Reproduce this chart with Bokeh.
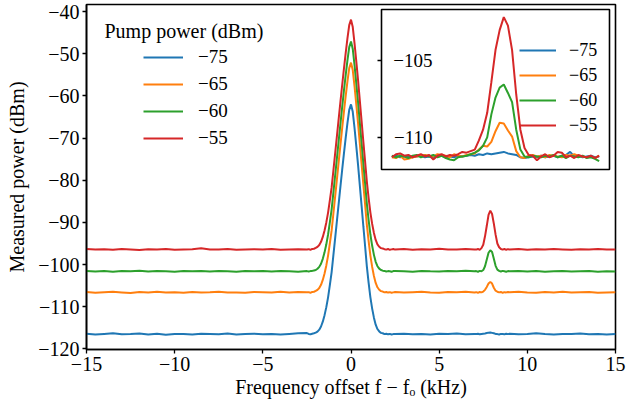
from bokeh.plotting import figure
from bokeh.models import (Range1d, LinearAxis, FixedTicker, Legend, LegendItem,
                          Label, BoxAnnotation)
from bokeh.core.properties import value
from bokeh.embed import file_html
from bokeh.resources import INLINE

# ---------------- data ----------------
series_names = ["\u221275", "\u221265", "\u221260", "\u221255"]
series_colors = ["#1f77b4", "#ff7f0e", "#2ca02c", "#d62728"]

freq_khz = [-15.0, -14.5, -14.0, -13.5, -13.0, -12.5, -12.0, -11.5, -11.0, -10.5, -10.0, -9.5, -9.0,
            -8.5, -8.0, -7.5, -7.0, -6.5, -6.0, -5.5, -5.0, -4.5, -4.0, -3.5, -3.0, -2.5,
            -2.4, -2.3, -2.2, -2.1, -2.0, -1.9, -1.8, -1.7, -1.6, -1.5, -1.4, -1.3, -1.2, -1.1, -1.0,
            -0.9, -0.8, -0.7, -0.6, -0.5, -0.4, -0.3, -0.2, -0.1, 0.0, 0.1, 0.2, 0.3, 0.4, 0.5, 0.6,
            0.7, 0.8, 0.9, 1.0, 1.1, 1.2, 1.3, 1.4, 1.5, 1.6, 1.7, 1.8, 1.9, 2.0, 2.1, 2.2, 2.3, 2.4,
            2.5, 3.0, 3.5, 4.0, 4.5, 5.0, 5.5, 6.0, 6.5, 7.0,
            7.1, 7.2, 7.3, 7.4, 7.5, 7.6, 7.7, 7.8, 7.9, 8.0, 8.1, 8.2, 8.3, 8.4, 8.5, 8.6, 8.7, 8.8, 8.9,
            9.0, 9.5, 10.0, 10.5, 11.0, 11.5, 12.0, 12.5, 13.0, 13.5, 14.0, 14.5, 15.0]

power_m75 = ([-116.4, -116.6, -116.45, -116.3, -116.55, -116.5, -116.35, -116.6, -116.4, -116.65,
              -116.45, -116.5, -116.6, -116.4, -116.45, -116.55, -116.35, -116.6, -116.5, -116.4,
              -116.55, -116.45, -116.6, -116.45, -116.3, -116.25]
             + [-116.45, -116.55, -116.4, -116.3, -116.15, -115.9, -115.45, -114.7, -113.55, -112.0,
                -110.1, -107.77, -104.88, -101.85, -97.84, -93.78, -89.7, -85.6, -81.5, -77.5,
                -73.6, -69.9, -66.4, -63.3, -62.0, -63.75, -67.6, -71.9, -76.35, -81.2,
                -86.0, -90.9, -95.66, -100.5, -104.33, -107.77, -110.45, -112.6, -114.25, -115.29,
                -115.87, -116.2, -116.3, -116.5, -116.4, -116.55, -116.45, -116.6, -116.5]
             + [-116.5, -116.4, -116.55, -116.45, -116.6, -116.4, -116.5, -116.35, -116.55, -116.45]
             + [-116.5, -116.4, -116.55, -116.45, -116.4, -116.35, -116.25, -116.15, -116.1, -116.2,
                -116.3, -116.45, -116.5, -116.6, -116.45, -116.5, -116.55, -116.4, -116.5]
             + [-116.4, -116.55, -116.45, -116.3, -116.5, -116.6, -116.45, -116.5, -116.35, -116.55,
                -116.45, -116.6, -116.5])

power_m65 = ([-106.5, -106.7, -106.55, -106.45, -106.6, -106.75, -106.5, -106.6, -106.45, -106.65,
              -106.55, -106.7, -106.5, -106.6, -106.55, -106.45, -106.65, -106.6, -106.7, -106.5,
              -106.55, -106.6, -106.45, -106.65, -106.5, -106.55]
             + [-106.55, -106.7, -106.5, -106.45, -106.25, -106.0, -105.55, -104.8, -103.64, -102.1,
                -100.2, -97.87, -94.98, -91.95, -87.94, -83.88, -79.8, -75.7, -71.6, -67.6,
                -63.7, -60.0, -56.5, -53.4, -52.1, -53.85, -57.7, -62.0, -66.45, -71.3,
                -76.1, -81.0, -85.76, -90.6, -94.43, -97.87, -100.55, -102.7, -104.35, -105.39,
                -105.97, -106.3, -106.4, -106.6, -106.5, -106.65, -106.55, -106.7, -106.6]
             + [-106.5, -106.65, -106.55, -106.45, -106.6, -106.7, -106.5, -106.55, -106.45, -106.6]
             + [-106.55, -106.7, -106.5, -106.6, -106.4, -106.0, -105.3, -104.5, -104.1, -104.5,
                -105.5, -106.2, -106.45, -106.6, -106.5, -106.7, -106.55, -106.6, -106.5]
             + [-106.55, -106.45, -106.6, -106.7, -106.5, -106.6, -106.45, -106.65, -106.55, -106.5,
                -106.7, -106.6, -106.55])

power_m60 = ([-101.5, -101.65, -101.55, -101.7, -101.5, -101.6, -101.45, -101.65, -101.55, -101.6,
              -101.7, -101.5, -101.6, -101.55, -101.65, -101.5, -101.6, -101.7, -101.55, -101.6,
              -101.5, -101.65, -101.55, -101.6, -101.7, -101.55]
             + [-101.65, -101.55, -101.5, -101.4, -101.3, -101.0, -100.55, -99.8, -98.64, -97.1,
                -95.2, -92.87, -89.98, -86.95, -82.94, -78.88, -74.8, -70.7, -66.6, -62.6,
                -58.7, -55.0, -51.5, -48.4, -47.1, -48.85, -52.7, -57.0, -61.45, -66.3,
                -71.1, -76.0, -80.76, -85.6, -89.43, -92.87, -95.55, -97.7, -99.35, -100.39,
                -100.97, -101.3, -101.45, -101.5, -101.65, -101.55, -101.6, -101.7, -101.55]
             + [-101.55, -101.6, -101.7, -101.5, -101.6, -101.65, -101.55, -101.6, -101.45, -101.6]
             + [-101.55, -101.7, -101.5, -101.6, -101.3, -100.4, -98.8, -97.2, -96.6, -97.0,
                -98.6, -100.3, -101.2, -101.5, -101.65, -101.5, -101.6, -101.7, -101.55]
             + [-101.6, -101.5, -101.65, -101.55, -101.7, -101.6, -101.5, -101.65, -101.6, -101.55,
                -101.7, -101.6, -101.65])

power_m55 = ([-96.3, -96.45, -96.35, -96.5, -96.3, -96.4, -96.55, -96.35, -96.45, -96.3,
              -96.5, -96.4, -96.35, -96.15, -96.45, -96.4, -96.3, -96.5, -96.4, -96.35,
              -96.45, -96.3, -96.5, -96.4, -96.35, -96.4]
             + [-96.35, -96.5, -96.3, -96.25, -96.05, -95.8, -95.35, -94.6, -93.44, -91.9,
                -90.0, -87.67, -84.78, -81.75, -77.74, -73.68, -69.6, -65.5, -61.4, -57.4,
                -53.5, -49.8, -46.3, -43.2, -41.9, -43.65, -47.5, -51.8, -56.25, -61.1,
                -65.9, -70.8, -75.56, -80.4, -84.23, -87.67, -90.35, -92.5, -94.15, -95.19,
                -95.77, -96.1, -96.2, -96.35, -96.45, -96.3, -96.5, -96.4, -96.3]
             + [-96.45, -96.3, -96.5, -96.35, -96.4, -96.25, -96.45, -96.4, -96.3, -96.45]
             + [-96.45, -96.3, -96.5, -96.1, -95.3, -93.3, -90.8, -88.2, -87.2, -88.0,
                -90.3, -92.9, -95.0, -95.9, -96.3, -96.45, -96.3, -96.5, -96.35]
             + [-96.4, -96.3, -96.5, -96.35, -96.45, -96.3, -96.4, -96.5, -96.35, -96.4,
                -96.3, -96.45, -96.4])

inset_freq_khz = [6.9, 6.94, 6.98, 7.02, 7.06, 7.1, 7.14, 7.18, 7.22, 7.26, 7.3, 7.34, 7.38, 7.42,
                  7.46, 7.5, 7.54, 7.58, 7.62, 7.66, 7.7, 7.74, 7.78, 7.82, 7.86, 7.9, 7.94, 7.98,
                  8.02, 8.06, 8.1, 8.14, 8.18, 8.22, 8.26, 8.3, 8.34, 8.38, 8.42, 8.46, 8.5, 8.54,
                  8.58, 8.62, 8.66, 8.7, 8.74, 8.78, 8.82, 8.86, 8.9]

inset_m75 = [-111.25, -111.2, -111.3, -111.25, -111.2, -111.3, -111.25, -111.2, -111.3, -111.25,
             -111.35, -111.25, -111.2, -111.3, -111.25, -111.3, -111.2, -111.25, -111.2, -111.15,
             -111.2, -111.1, -111.15, -111.05, -111.1, -111.05, -111.0, -110.95, -111.05, -111.1,
             -111.15, -111.3, -111.35, -111.3, -111.25, -111.3, -111.2, -111.3, -111.25, -111.2,
             -111.3, -111.2, -111.15, -110.95, -111.25, -111.2, -111.3, -111.25, -111.2, -111.3,
             -111.25]
inset_m65 = [-111.3, -111.35, -111.2, -111.45, -111.4, -111.3, -111.25, -111.2, -111.15, -111.2,
             -111.25, -111.1, -111.15, -111.2, -111.3, -111.1, -111.2, -111.25, -111.15, -111.1,
             -111.05, -110.8, -110.55, -110.6, -110.3, -109.6, -109.05, -109.1, -109.55, -109.95,
             -110.9, -111.3, -111.35, -111.2, -111.15, -111.25, -111.2, -111.3, -111.15, -111.2,
             -111.25, -111.3, -111.15, -111.2, -111.1, -111.2, -111.25, -111.3, -111.25, -111.35,
             -111.2]
inset_m60 = [-111.2, -111.3, -111.2, -111.25, -111.35, -111.2, -111.15, -111.3, -111.2, -111.25,
             -111.15, -111.3, -111.2, -111.35, -111.45, -111.5, -111.3, -111.25, -111.2, -111.1,
             -111.0, -110.85, -110.55, -110.0, -108.5, -107.4, -106.75, -106.55, -107.1, -107.7,
             -109.5, -110.8, -111.25, -111.3, -111.2, -111.25, -111.3, -111.2, -111.25, -111.15,
             -111.3, -111.2, -111.35, -111.2, -111.25, -111.3, -111.2, -111.35, -111.3, -111.4,
             -111.55]
inset_m55 = [-111.3, -111.1, -111.05, -111.2, -111.15, -111.3, -111.2, -111.1, -111.25, -111.15,
             -111.45, -111.2, -111.1, -111.25, -111.15, -111.2, -111.1, -110.95, -111.0, -110.9,
             -110.8, -110.2, -109.5, -108.4, -106.4, -104.3, -103.0, -102.15, -102.7, -104.3,
             -107.2, -109.5, -110.7, -111.15, -111.2, -111.5, -111.25, -111.1, -111.3, -111.2,
             -110.95, -111.0, -111.3, -111.2, -111.35, -111.15, -111.25, -111.3, -111.2, -111.35,
             -111.2]

x_ticks = [-15, -10, -5, 0, 5, 10, 15]
x_tick_labels = ["\u221215", "\u221210", "\u22125", "0", "5", "10", "15"]
y_ticks = [-120, -110, -100, -90, -80, -70, -60, -50, -40]
y_tick_labels = ["\u2212120", "\u2212110", "\u2212100", "\u221290", "\u221280", "\u221270",
                 "\u221260", "\u221250", "\u221240"]
inset_y_ticks = [-110, -105]
inset_y_tick_labels = ["\u2212110", "\u2212105"]

main_series = [power_m75, power_m65, power_m60, power_m55]
inset_series = [inset_m75, inset_m65, inset_m60, inset_m55]
for s in main_series:
    assert len(s) == len(freq_khz)
for s in inset_series:
    assert len(s) == len(inset_freq_khz)

# ---------------- layout constants ----------------
FONT = "Liberation Serif"
W, H = 626, 404
BL, BR, BT, BB = 86, 11, 4, 55
X_RANGE = (-15, 15)
Y_RANGE = (-120.15, -38.3)
fl, fr, ft, fb = BL, W - BR, BT, H - BB          # frame in canvas px
il, ir, it, ib = 381, 609, 9, 169                # inset box in canvas px
IX0, IX1 = 6.8, 9.0
IY0, IY1 = -112.1, -101.65

p = figure(width=W, height=H, output_backend="svg", toolbar_location=None,
           x_range=Range1d(*X_RANGE), y_range=Range1d(*Y_RANGE),
           min_border_left=BL, min_border_right=BR, min_border_top=BT, min_border_bottom=BB,
           background_fill_color="white", border_fill_color="white")
p.xgrid.visible = False
p.ygrid.visible = False
p.outline_line_color = "black"
p.outline_line_width = 1.6

for ax, ticks, labels in ((p.xaxis[0], x_ticks, x_tick_labels), (p.yaxis[0], y_ticks, y_tick_labels)):
    ax.ticker = FixedTicker(ticks=ticks)
    ax.major_label_overrides = {t: l for t, l in zip(ticks, labels)}
    ax.minor_tick_line_color = None
    ax.major_tick_in = 0
    ax.major_tick_out = 4
    ax.major_tick_line_width = 1.3
    ax.major_tick_line_color = "black"
    ax.axis_line_color = "black"
    ax.axis_line_width = 1.6
    ax.major_label_text_font = FONT
    ax.major_label_text_font_size = "20px"
    ax.major_label_text_color = "black"
    ax.major_label_standoff = 3
    ax.axis_label_text_font = FONT
    ax.axis_label_text_font_size = "20px"
    ax.axis_label_text_font_style = "normal"
    ax.axis_label_text_color = "black"

p.yaxis[0].axis_label = "Measured power (dBm)"
p.yaxis[0].axis_label_standoff = 7
p.xaxis[0].axis_label = "Frequency offset f \u2212 f\u2092 (kHz)"
p.xaxis[0].axis_label_standoff = 2

# inset ranges mapped onto the frame
sx = (IX1 - IX0) / (ir - il)
sy = (IY1 - IY0) / (ib - it)
p.extra_x_ranges = {"inset_x": Range1d(IX0 - (il - fl) * sx, IX1 + (fr - ir) * sx)}
p.extra_y_ranges = {"inset_y": Range1d(IY0 - (fb - ib) * sy, IY1 + (it - ft) * sy)}

# main curves
main_r = []
for vals, c in zip(main_series, series_colors):
    main_r.append(p.line(freq_khz, vals, line_color=c, line_width=2))

# main legend
p.add_layout(Label(x=X_RANGE[0], y=Y_RANGE[1], x_offset=18, y_offset=-26, text="Pump power (dBm)",
                   text_font=FONT, text_font_size="20px", text_align="left",
                   text_baseline="middle", text_color="black"))
main_leg = Legend(items=[LegendItem(label=value(n), renderers=[r]) for n, r in zip(series_names, main_r)],
                  location=(57, 199), padding=0, margin=0, spacing=3, label_height=24,
                  glyph_height=24, glyph_width=40, label_standoff=15,
                  border_line_color=None, background_fill_alpha=0,
                  label_text_font=FONT, label_text_font_size="19px", label_text_color="black")
p.add_layout(main_leg)

# inset box
p.add_layout(BoxAnnotation(left=IX0, right=IX1, bottom=IY0, top=IY1,
                           x_range_name="inset_x", y_range_name="inset_y",
                           fill_color="white", fill_alpha=1.0, line_color="black",
                           line_width=1.6, line_alpha=1.0))

inset_r = []
for vals, c in zip(inset_series, series_colors):
    inset_r.append(p.line(inset_freq_khz, vals, line_color=c, line_width=2,
                          x_range_name="inset_x", y_range_name="inset_y", level="overlay"))

inset_axis = LinearAxis(x_range_name="inset_x", y_range_name="inset_y", fixed_location=IX0,
                        ticker=FixedTicker(ticks=inset_y_ticks),
                        major_label_overrides={t: "" for t in inset_y_ticks},
                        major_label_text_font_size="1px", major_label_text_color=None,
                        major_label_standoff=0, major_tick_in=4, major_tick_out=0,
                        major_tick_line_color="black", major_tick_line_width=1.3,
                        minor_tick_line_color=None, axis_line_color=None)
p.add_layout(inset_axis, "right")

for t, lab in zip(inset_y_ticks, inset_y_tick_labels):
    p.add_layout(Label(x=IX0, y=t, x_offset=51, text=lab, text_align="right",
                       text_baseline="middle", x_range_name="inset_x", y_range_name="inset_y",
                       text_font=FONT, text_font_size="19px", text_color="black"))

inset_leg = Legend(items=[LegendItem(label=value(n), renderers=[r]) for n, r in zip(series_names, inset_r)],
                   location=(433, 213), padding=0, margin=0, spacing=3, label_height=22,
                   glyph_height=22, glyph_width=37, label_standoff=13,
                   border_line_color=None, background_fill_alpha=0,
                   label_text_font=FONT, label_text_font_size="18px", label_text_color="black")
p.add_layout(inset_leg)

open("out.html", "w").write(file_html(p, INLINE))
